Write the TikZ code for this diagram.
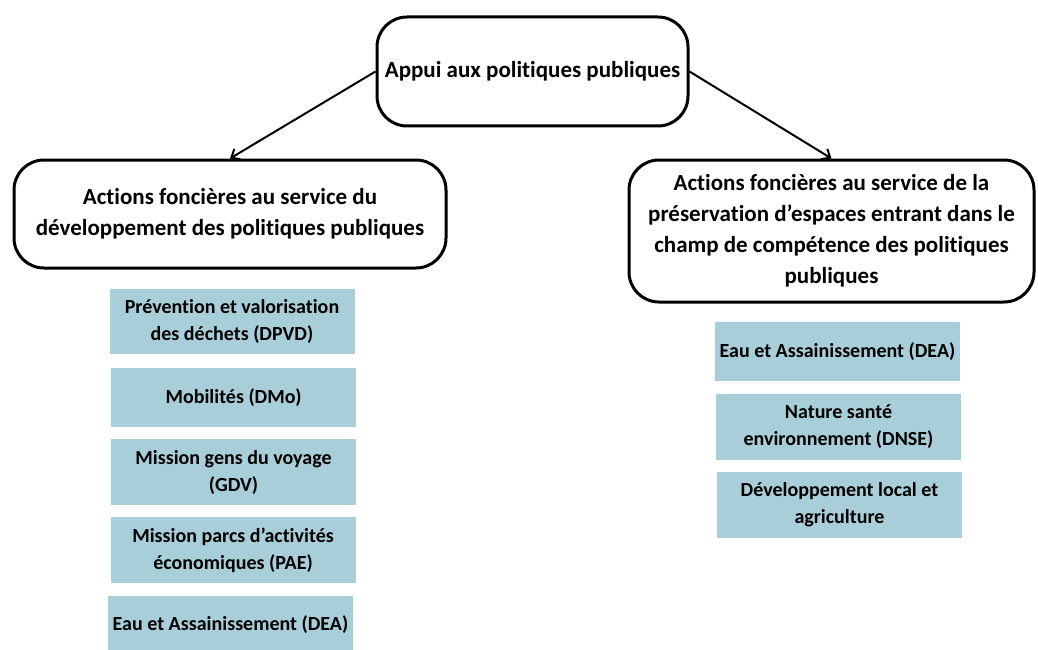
\documentclass[tikz,border=0pt]{standalone}
\usepackage{fontspec}
\setmainfont{Carlito}[Ligatures=NoCommon]
\usetikzlibrary{arrows.meta}
\definecolor{boxblue}{RGB}{168,207,217}
\tikzset{
  head/.style={draw=black, line width=3pt, rounded corners=30pt, fill=white, align=center,
    font=\fontsize{23}{31}\selectfont\bfseries, inner sep=0pt},
  item/.style={fill=boxblue, align=center, inner sep=0pt, minimum width=245pt,
    font=\fontsize{20}{27}\selectfont\bfseries},
  link/.style={line width=2pt, -{Straight Barb[length=7pt,width=12pt,line width=2pt]}}
}
\begin{document}
\begin{tikzpicture}[x=1pt,y=-1pt]
\useasboundingbox (0,0) rectangle (1038,650);
\node[head, minimum width=311pt, minimum height=109pt] (top) at (532.5,71.5) {Appui aux politiques publiques};
\node[head, minimum width=432pt, minimum height=108pt] (left) at (230,214) {Actions foncières au service du\\développement des politiques publiques};
\node[head, minimum width=405pt, minimum height=142pt] (right) at (831.5,231) {Actions foncières au service de la\\préservation d’espaces entrant dans le\\champ de compétence des politiques\\publiques};
\draw[link] (top.west) -- (left.north);
\draw[link] (top.east) -- (right.north);
\node[item, minimum height=65pt] (l1) at (232,321.5) {Prévention et valorisation\\des déchets (DPVD)};
\node[item, minimum height=59pt] (l2) at (233.5,397.5) {Mobilités (DMo)};
\node[item, minimum height=66pt] (l3) at (233.5,472) {Mission gens du voyage\\(GDV)};
\node[item, minimum height=66pt] (l4) at (233,550) {Mission parcs d’activités\\économiques (PAE)};
\node[item, minimum height=58pt] (l5) at (230.5,625) {Eau et Assainissement (DEA)};
\node[item, minimum height=59pt] (r1) at (837.5,351.5) {Eau et Assainissement (DEA)};
\node[item, minimum height=66pt] (r2) at (838.5,427) {Nature santé\\environnement (DNSE)};
\node[item, minimum height=66pt] (r3) at (839.5,505) {Développement local et\\agriculture};
\end{tikzpicture}
\end{document}
